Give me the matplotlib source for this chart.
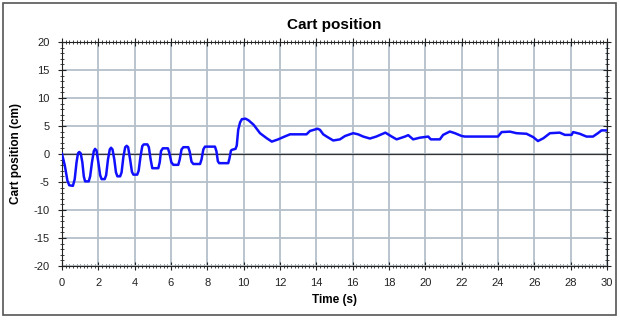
import matplotlib
matplotlib.use("Agg")
import matplotlib.pyplot as plt
from matplotlib.patches import Rectangle
from matplotlib.ticker import MultipleLocator

plt.rcParams['font.family'] = ['Liberation Sans', 'DejaVu Sans']
plt.rcParams['axes.unicode_minus'] = False

# cart position samples (time in s, position in cm)
time_s = [0.0, 0.15, 0.3, 0.4, 0.6, 0.7, 0.8, 0.88, 0.95, 1.03, 1.12, 1.2,
          1.27, 1.47, 1.55, 1.65, 1.75, 1.82, 1.9, 2.0, 2.1, 2.18, 2.35, 2.43,
          2.53, 2.63, 2.7, 2.78, 2.88, 2.97, 3.05, 3.2, 3.28, 3.38, 3.48, 3.56,
          3.64, 3.75, 3.85, 3.93, 4.14, 4.22, 4.32, 4.42, 4.5, 4.7, 4.78, 4.88,
          4.97, 5.3, 5.38, 5.45, 5.55, 5.83, 5.9, 6.02, 6.13, 6.4, 6.48, 6.58,
          6.68, 6.95, 7.03, 7.13, 7.23, 7.6, 7.68, 7.78, 7.87, 8.42, 8.5, 8.58,
          8.65, 9.15, 9.22, 9.3, 9.37, 9.55, 9.62, 9.7, 9.8, 9.9, 10.1, 10.27,
          10.55, 10.9, 11.27, 11.55, 11.9, 12.18, 12.55, 13.28, 13.46, 13.65,
          14.07, 14.2, 14.38, 14.57, 14.93, 15.3, 15.58, 16.03, 16.3, 16.58,
          16.95, 17.3, 17.8, 18.15, 18.42, 18.88, 19.06, 19.33, 19.7, 20.16,
          20.3, 20.8, 20.98, 21.35, 21.63, 22.0, 22.18, 24.0, 24.2, 24.66,
          25.02, 25.57, 25.94, 26.2, 26.5, 26.86, 27.4, 27.68, 28.05, 28.14,
          28.5, 28.87, 29.23, 29.5, 29.7, 30.0]
position_cm = [0.0, -2.0, -4.8, -5.6, -5.7, -4.5, -1.5, 0.1, 0.35, 0.1, -1.5, -4.0,
               -4.9, -4.9, -4.0, -1.5, 0.5, 0.9, 0.6, -1.5, -3.8, -4.5, -4.5, -3.8,
               -1.0, 0.8, 1.1, 0.8, -1.0, -3.3, -4.0, -4.0, -3.3, -0.5, 1.2, 1.45,
               1.2, -1.0, -3.2, -3.7, -3.7, -3.0, -0.5, 1.4, 1.7, 1.7, 1.2, -1.0,
               -2.55, -2.55, -1.5, 0.5, 1.0, 1.0, 0.3, -1.5, -1.95, -1.95, -1.0, 0.8,
               1.2, 1.2, 0.4, -1.4, -1.8, -1.8, -1.0, 0.8, 1.3, 1.3, 0.5, -1.3,
               -1.65, -1.65, -0.8, 0.6, 0.75, 0.9, 1.5, 4.3, 5.6, 6.2, 6.3, 6.0,
               5.2, 3.7, 2.8, 2.2, 2.6, 3.0, 3.5, 3.5, 3.5, 4.1,
               4.5, 4.3, 3.5, 3.1, 2.4, 2.6, 3.2, 3.7, 3.5, 3.1,
               2.75, 3.1, 3.8, 3.1, 2.6, 3.1, 3.35, 2.6, 2.9, 3.1,
               2.6, 2.6, 3.4, 4.0, 3.7, 3.2, 3.1, 3.1, 3.9, 3.98,
               3.7, 3.6, 3.0, 2.3, 2.8, 3.7, 3.8, 3.4, 3.4, 3.9,
               3.6, 3.1, 3.1, 3.7, 4.2, 4.2]

fig = plt.figure(figsize=(6.2, 3.2), dpi=100)
fig.patch.set_facecolor("white")
ax = fig.add_axes([0.1, 0.169, 0.879, 0.7])

ax.set_xlim(0, 30)
ax.set_ylim(-20, 20)
ax.xaxis.set_major_locator(MultipleLocator(2))
ax.xaxis.set_minor_locator(MultipleLocator(0.2))
ax.yaxis.set_major_locator(MultipleLocator(5))
ax.yaxis.set_minor_locator(MultipleLocator(1))

ax.grid(True, which="major", color="#b4bfca", linewidth=1.3)
ax.axhline(0, color="#333333", linewidth=0.9, zorder=2)
ax.plot(time_s, position_cm, color="#1010ff", linewidth=1.8, zorder=3,
        solid_joinstyle="round")

ax.tick_params(which="both", direction="inout", top=True, right=True,
               labelsize=8, colors="#222222")
ax.tick_params(which="major", length=6, width=0.8, pad=6)
ax.tick_params(which="minor", length=3, width=0.6)
for s in ax.spines.values():
    s.set_color("#222222")
    s.set_linewidth(0.8)

ax.set_title("Cart position", fontsize=11, fontweight="bold", pad=9)
ax.set_xlabel("Time (s)", fontsize=8.5, fontweight="bold", labelpad=4)
ax.set_ylabel("Cart position (cm)", fontsize=8.5, fontweight="bold", labelpad=8)

# frame around the whole figure
fig.patches.append(Rectangle((0.005, 0.015), 0.988, 0.975, transform=fig.transFigure,
                             fill=False, edgecolor="#555555", linewidth=1.2))

fig.savefig("out.png", dpi=100)
